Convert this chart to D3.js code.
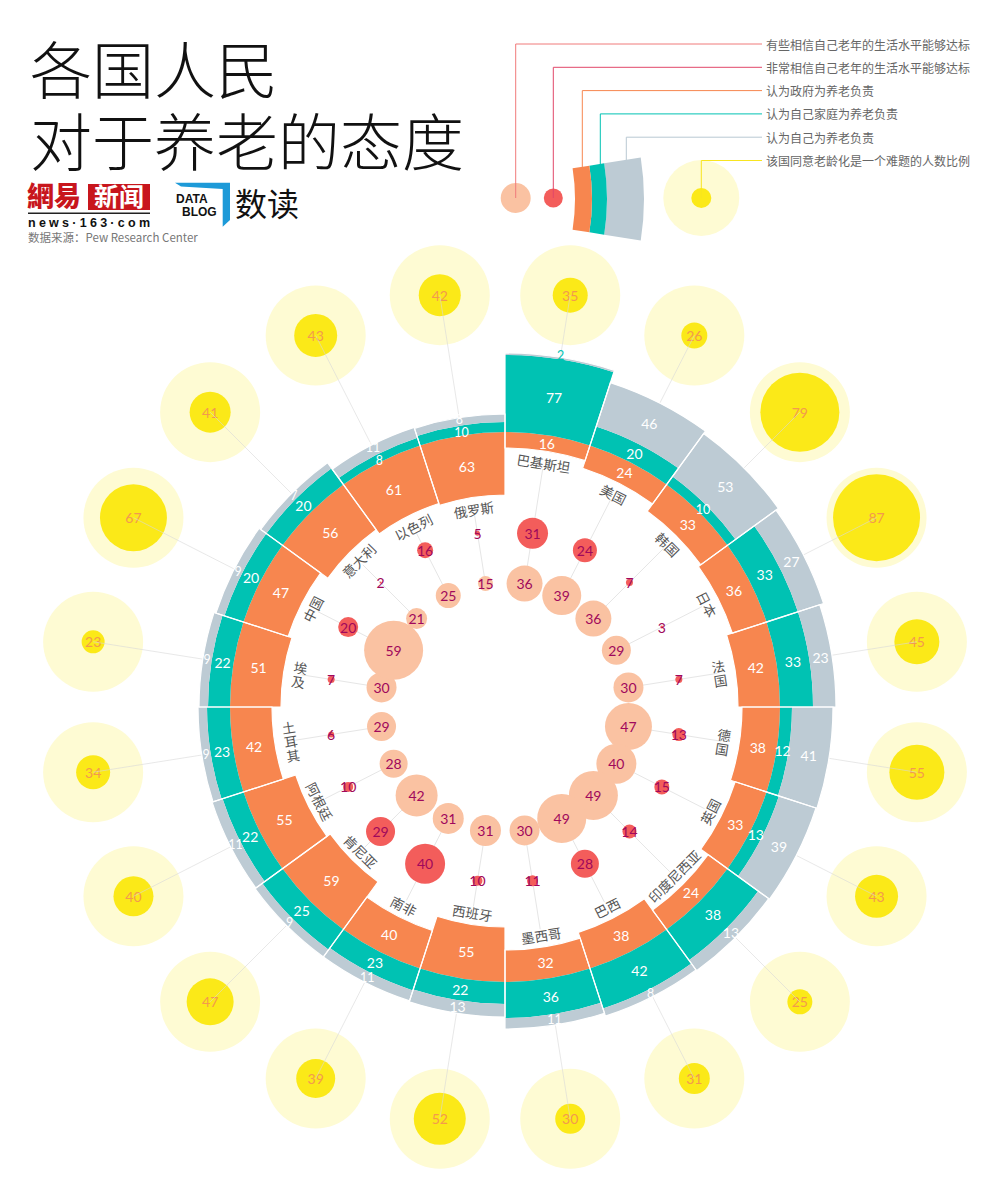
<!DOCTYPE html>
<html><head><meta charset="utf-8">
<script src="https://cdn.jsdelivr.net/npm/d3@7"></script>
<style>body{margin:0;background:#fff} svg{display:block}</style>
</head><body>
<svg id="chart" width="1000" height="1201"></svg>
<script>
// ---------- data ----------
const countries = ["巴基斯坦","美国","韩国","日本","法国","德国","英国","印度尼西亚","巴西","墨西哥","西班牙","南非","肯尼亚","阿根廷","土耳其","埃及","中国","意大利","以色列","俄罗斯"];
const govValues = [16,24,33,36,42,38,33,24,38,32,55,40,59,55,42,51,47,56,61,63];
const familyValues = [77,20,10,33,33,12,13,38,42,36,22,23,25,22,23,22,20,20,8,10];
const selfValues = [2,46,53,27,23,41,39,13,8,11,13,11,9,11,9,9,9,7,11,8];
const veryConfident = [31,24,7,3,7,13,15,14,28,11,10,40,29,10,6,7,20,2,16,5];
const somewhatConfident = [36,39,36,29,30,47,40,49,49,30,31,31,42,28,29,30,59,21,25,15];
const agingProblem = [35,26,79,87,45,55,43,25,31,30,52,39,47,40,34,23,67,41,43,42];
const legendLabels = ["有些相信自己老年的生活水平能够达标","非常相信自己老年的生活水平能够达标","认为政府为养老负责","认为自己家庭为养老负责","认为自己为养老负责","该国同意老龄化是一个难题的人数比例"];
const titleLines = ["各国人民","对于养老的态度"];
const sourceText = "数据来源：Pew Research Center";

// ---------- style ----------
const C = {peach:"#fac2a2", red:"#f35d5b", orange:"#f7864f", teal:"#00c2b3", gray:"#bdcbd4",
  yellow:"#fbe918", halo:"#fefbd3", num:"#a0085c", yellowNum:"#f39a4c", line:"#e6e6e6", label:"#555"};
const CJK = "'Noto Sans CJK SC','Noto Sans',sans-serif";
const NUM = "Lato,'Open Sans',sans-serif";

const svg = d3.select("#chart");
const cx = 505, cy = 707, R0 = 275, peachR = 125, redR = 176, yellowR = 417;

const angle = d3.scaleBand().domain(countries).range([0, 2*Math.PI]);
const radial = d3.scaleLinear().domain([0,100]).range([0,100]);
const size = d3.scaleLinear().domain([0,100]).range([0,50]);
const mid = c => angle(c) + angle.bandwidth()/2;
const polar = (a, r) => [r*Math.sin(a), -r*Math.cos(a)];

const rows = countries.map((c,i)=>({c, i, gov:govValues[i], fam:familyValues[i], self:selfValues[i],
  very:veryConfident[i], some:somewhatConfident[i], prob:agingProblem[i], a:mid(c)}));

const g = svg.append("g").attr("transform",`translate(${cx},${cy})`);

// inner connector lines
g.append("g").selectAll("line").data(rows).join("line")
  .attr("x1", d=>polar(d.a, peachR)[0]).attr("y1", d=>polar(d.a, peachR)[1])
  .attr("x2", d=>polar(d.a, R0-radial(d.gov)-18)[0]).attr("y2", d=>polar(d.a, R0-radial(d.gov)-18)[1])
  .attr("stroke", C.line).attr("stroke-width",1);

// outer halos and yellow circles
const yg = g.append("g");
yg.selectAll("circle.halo").data(rows).join("circle").attr("class","halo")
  .attr("cx", d=>polar(d.a,yellowR)[0]).attr("cy", d=>polar(d.a,yellowR)[1])
  .attr("r", size(100)).attr("fill", C.halo);
yg.selectAll("circle.yel").data(rows).join("circle").attr("class","yel")
  .attr("cx", d=>polar(d.a,yellowR)[0]).attr("cy", d=>polar(d.a,yellowR)[1])
  .attr("r", d=>size(d.prob)).attr("fill", C.yellow);

// outer connector lines (over yellow)
g.append("g").selectAll("line").data(rows).join("line")
  .attr("x1", d=>polar(d.a, yellowR)[0]).attr("y1", d=>polar(d.a, yellowR)[1])
  .attr("x2", d=>polar(d.a, R0+radial(d.fam)+radial(d.self))[0])
  .attr("y2", d=>polar(d.a, R0+radial(d.fam)+radial(d.self))[1])
  .attr("stroke", "#d8d8d8").attr("stroke-opacity",0.6).attr("stroke-width",1);

yg.selectAll("text").data(rows).join("text")
  .attr("x", d=>polar(d.a,yellowR)[0]).attr("y", d=>polar(d.a,yellowR)[1])
  .attr("text-anchor","middle").attr("dominant-baseline","central")
  .attr("font-family",NUM).attr("font-size",14).attr("fill",C.yellowNum).text(d=>d.prob);

// bars
const arc = d3.arc();
const segs = [];
rows.forEach(d=>{
  const s = angle(d.c), e = s + angle.bandwidth();
  const bothThin = d.fam < 12 && d.self < 12;
  segs.push({d, s, e, r0:R0-radial(d.gov), r1:R0, v:d.gov, fill:C.orange, shift:0});
  segs.push({d, s, e, r0:R0, r1:R0+radial(d.fam), v:d.fam, fill:C.teal, shift: bothThin ? -2.5 : 0});
  segs.push({d, s, e, r0:R0+radial(d.fam), r1:R0+radial(d.fam)+radial(d.self), v:d.self, fill:C.gray,
    shift: d.self < 4 ? 3 : (bothThin ? 2.5 : 0)});
});
const bg = g.append("g");
bg.selectAll("path.seg").data(segs).join("path").attr("class","seg")
  .attr("d", s=>arc({innerRadius:s.r0, outerRadius:s.r1, startAngle:s.s, endAngle:s.e}))
  .attr("fill", s=>s.fill);
// white separators between sectors
bg.selectAll("path.sep").data(rows).join("path").attr("class","sep")
  .attr("d", d=>arc({innerRadius:R0-radial(d.gov), outerRadius:R0+radial(d.fam)+radial(d.self),
      startAngle:angle(d.c), endAngle:angle(d.c)+angle.bandwidth()}))
  .attr("fill","none").attr("stroke","#fff").attr("stroke-width",1.2);
bg.selectAll("text").data(segs).join("text")
  .attr("transform", s=>{const a=(s.s+s.e)/2, r=(s.r0+s.r1)/2 + s.shift; const p=polar(a,r); return `translate(${p[0]},${p[1]})`;})
  .attr("text-anchor","middle").attr("dominant-baseline","central")
  .attr("font-family",NUM).attr("font-size", s=> s.v<12 ? 12.5 : 14)
  .attr("fill", s=> s.v<4 ? C.teal : "#fff").text(s=>s.v);

// country labels
const lg = g.append("g").attr("font-family",CJK).attr("font-size",13.5).attr("fill",C.label);
rows.forEach(d=>{
  const deg = d.a*180/Math.PI;
  const r = R0 - radial(d.gov) - 12;
  const p = polar(d.a, r);
  const sinv = Math.abs(Math.sin(d.a));
  if (sinv > 0.95) {
    // stacked upright characters, as one text element
    const rot = deg < 180 ? deg-90 : deg-270;
    const rr = R0 - radial(d.gov) - 16;
    const q = polar(d.a, rr);
    const chars = [...d.c], n = chars.length, fs = 13.5;
    const t = lg.append("text").attr("transform",`translate(${q[0]},${q[1]}) rotate(${rot})`)
      .attr("text-anchor","middle").attr("dominant-baseline","central");
    chars.forEach((ch,k)=>{
      t.append("tspan").attr("x",0).attr("y",(k-(n-1)/2)*fs*1.05).text(ch);
    });
  } else {
    const rot = (deg>90 && deg<270) ? deg-180 : deg;
    lg.append("text").attr("transform",`translate(${p[0]},${p[1]}) rotate(${rot})`)
      .attr("text-anchor","middle").attr("dominant-baseline","central").text(d.c);
  }
});

// bubbles
const cg = g.append("g");
cg.selectAll("circle.some").data(rows).join("circle").attr("class","some")
  .attr("cx", d=>polar(d.a,peachR)[0]).attr("cy", d=>polar(d.a,peachR)[1])
  .attr("r", d=>size(d.some)).attr("fill", C.peach);
cg.selectAll("circle.very").data(rows).join("circle").attr("class","very")
  .attr("cx", d=>polar(d.a,redR)[0]).attr("cy", d=>polar(d.a,redR)[1])
  .attr("r", d=>size(d.very)).attr("fill", C.red);
cg.selectAll("text.some").data(rows).join("text").attr("class","some")
  .attr("x", d=>polar(d.a,peachR)[0]).attr("y", d=>polar(d.a,peachR)[1])
  .attr("text-anchor","middle").attr("dominant-baseline","central")
  .attr("font-family",NUM).attr("font-size",14).attr("fill",C.num).text(d=>d.some);
cg.selectAll("text.very").data(rows).join("text").attr("class","very")
  .attr("x", d=>polar(d.a,redR)[0]).attr("y", d=>polar(d.a,redR)[1])
  .attr("text-anchor","middle").attr("dominant-baseline","central")
  .attr("font-family",NUM).attr("font-size",14).attr("fill",C.num).text(d=>d.very);

// ---------- title & logos ----------
const title = svg.append("text").attr("font-family",CJK).attr("font-weight",300).attr("font-size",62).attr("fill","#111");
titleLines.forEach((t,i)=> title.append("tspan").attr("x",30).attr("y",94+i*72).text(t));

const logo = svg.append("g");
logo.append("text").attr("x",27).attr("y",206).attr("font-family",CJK).attr("font-weight",900)
  .attr("font-size",27).attr("fill","#c8161d").text("網易");
logo.append("rect").attr("x",88).attr("y",184).attr("width",62).attr("height",26).attr("fill","#c8161d");
logo.append("text").attr("x",119).attr("y",206).attr("text-anchor","middle").attr("font-family",CJK)
  .attr("font-weight",700).attr("font-size",25).attr("fill","#fff").text("新闻");
logo.append("rect").attr("x",28).attr("y",212.5).attr("width",122).attr("height",1.5).attr("fill","#222");
logo.append("text").attr("x",28).attr("y",227).attr("font-family","'Liberation Sans',Arial,sans-serif")
  .attr("font-weight",700).attr("font-size",12.5).attr("fill","#111")
  .attr("textLength",122).attr("lengthAdjust","spacing").text("news·163·com");
logo.append("path").attr("d","M175,182.7 L230,182.7 L230,220 L222.7,226.7 L222.7,189 L181,186.5 Z").attr("fill","#1d9ad8");
const db = logo.append("text").attr("font-family","'Liberation Sans',Arial,sans-serif")
  .attr("font-weight",700).attr("font-size",12).attr("fill","#111");
db.append("tspan").attr("x",176).attr("y",203).text("DATA");
db.append("tspan").attr("x",182).attr("y",215.5).text("BLOG");
logo.append("text").attr("x",235).attr("y",216).attr("font-family",CJK).attr("font-size",32)
  .attr("fill","#111").text("数读");
logo.append("text").attr("x",28).attr("y",242).attr("font-family",CJK).attr("font-size",11.5)
  .attr("fill","#777").text(sourceText);

// ---------- legend ----------
const leg = svg.append("g");
const legColors = ["#f07b7b","#e2486a",C.orange,C.teal,"#b9c8d2","#f8e520"];
const legX = [515.7,553.3,582.3,600.3,626.3,701.3];
const legEndY = [198,198,167,164.5,160,198];
legendLabels.forEach((t,k)=>{
  const y = 44 + k*23.3;
  leg.append("path").attr("d",`M762,${y} H${legX[k]} V${legEndY[k]}`)
    .attr("fill","none").attr("stroke",legColors[k]).attr("stroke-width",1);
  leg.append("text").attr("x",766).attr("y",y).attr("dominant-baseline","central")
    .attr("font-family",CJK).attr("font-size",12).attr("fill","#666").text(t);
});
// legend symbols
leg.append("circle").attr("cx",515.7).attr("cy",198).attr("r",size(30)).attr("fill",C.peach).lower();
leg.append("circle").attr("cx",553.3).attr("cy",198).attr("r",size(19)).attr("fill",C.red).lower();
const la = d3.arc(), lc = [379,199], h = Math.PI/20;
[[196,213,C.orange],[213,228,C.teal],[228,265,C.gray]].forEach(([r0,r1,f])=>{
  leg.insert("path",":first-child").attr("transform",`translate(${lc[0]},${lc[1]})`)
    .attr("d",la({innerRadius:r0,outerRadius:r1,startAngle:Math.PI/2-h,endAngle:Math.PI/2+h})).attr("fill",f);
});
leg.insert("circle",":first-child").attr("cx",701.3).attr("cy",198).attr("r",size(20)).attr("fill",C.yellow);
leg.insert("circle",":first-child").attr("cx",701.3).attr("cy",198).attr("r",38).attr("fill",C.halo);
</script>
</body></html>
